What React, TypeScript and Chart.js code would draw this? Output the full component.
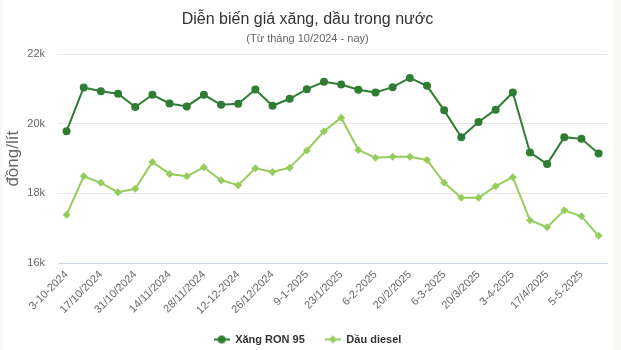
import React, { useEffect, useRef } from "react";
import { Chart, registerables } from "chart.js";

Chart.register(...registerables);

const categories: string[] = [
  "3-10-2024", "10/10/2024", "17/10/2024", "24/10/2024", "31/10/2024", "7/11/2024",
  "14/11/2024", "21/11/2024", "28/11/2024", "5/12/2024", "12-12-2024", "19/12/2024",
  "26/12/2024", "2/1/2025", "9-1-2025", "16/1/2025", "23/1/2025", "3/2/2025",
  "6-2-2025", "13/2/2025", "20/2/2025", "27/2/2025", "6-3-2025", "13/3/2025",
  "20/3/2025", "27/3/2025", "3-4-2025", "10/4/2025", "17/4/2025", "24/4/2025",
  "5-5-2025", "12/5/2025",
];

const ron95: number[] = [
  19790, 21048, 20943, 20867, 20486, 20838, 20590, 20505, 20838, 20552, 20581, 20990,
  20524, 20724, 21000, 21210, 21133, 20981, 20905, 21057, 21324, 21095, 20390, 19619,
  20057, 20410, 20905, 19181, 18848, 19619, 19571, 19152,
];

const diesel: number[] = [
  17390, 18495, 18305, 18038, 18133, 18905, 18562, 18495, 18752, 18381, 18238, 18724,
  18619, 18743, 19238, 19790, 20181, 19248, 19029, 19057, 19057, 18962, 18305, 17876,
  17876, 18210, 18467, 17229, 17029, 17514, 17343, 16781,
];

const seriesNames: string[] = ["Xăng RON 95", "Dầu diesel"];
const titleText = "Diễn biến giá xăng, dầu trong nước";
const subtitleText = "(Từ tháng 10/2024 - nay)";
const yAxisTitle = "đồng/lít";

const DARK = "#2e7d32";
const LIGHT = "#95cd5d";

function legendIcon(color: string, shape: "circle" | "diamond"): HTMLCanvasElement {
  const c = document.createElement("canvas");
  c.width = 16;
  c.height = 10;
  const ctx = c.getContext("2d")!;
  ctx.strokeStyle = color;
  ctx.fillStyle = color;
  ctx.lineWidth = 2;
  ctx.beginPath();
  ctx.moveTo(0, 5);
  ctx.lineTo(16, 5);
  ctx.stroke();
  ctx.beginPath();
  if (shape === "circle") {
    ctx.arc(8, 5, 4, 0, Math.PI * 2);
  } else {
    ctx.moveTo(8, 1);
    ctx.lineTo(12, 5);
    ctx.lineTo(8, 9);
    ctx.lineTo(4, 5);
    ctx.closePath();
  }
  ctx.fill();
  return c;
}

export default function App() {
  const ref = useRef<HTMLCanvasElement | null>(null);

  useEffect(() => {
    document.body.style.margin = "0";
    document.body.style.background = "#faf8f5";
    Chart.defaults.font.family = "'Liberation Sans', Arial, sans-serif";
    const icons = [legendIcon(DARK, "circle"), legendIcon(LIGHT, "diamond")];
    const chart = new Chart(ref.current!, {
      type: "line",
      data: {
        labels: categories,
        datasets: [
          {
            label: seriesNames[0],
            data: ron95,
            borderColor: DARK,
            backgroundColor: DARK,
            borderWidth: 2,
            pointStyle: "circle",
            pointRadius: 4,
            pointBorderWidth: 0,
            pointBackgroundColor: DARK,
            tension: 0,
          },
          {
            label: seriesNames[1],
            data: diesel,
            borderColor: LIGHT,
            backgroundColor: LIGHT,
            borderWidth: 2,
            pointStyle: "rectRot",
            pointRadius: 4,
            pointBorderWidth: 0,
            pointBackgroundColor: LIGHT,
            tension: 0,
          },
        ],
      },
      options: {
        animation: false,
        responsive: false,
        maintainAspectRatio: false,
        layout: { padding: { left: 0, right: 0, top: 0, bottom: -5 } },
        plugins: {
          title: {
            display: true,
            text: titleText,
            color: "#333333",
            font: { size: 16, weight: "normal" },
            padding: { top: 10, bottom: 0 },
          },
          subtitle: {
            display: true,
            text: subtitleText,
            color: "#666666",
            font: { size: 11, weight: "normal" },
            padding: { top: 3, bottom: 9 },
          },
          legend: {
            position: "bottom",
            labels: {
              usePointStyle: true,
              pointStyleWidth: 16,
              padding: 20,
              color: "#333333",
              font: { size: 11, weight: "bold" },
              generateLabels: (ch: any) => {
                const items = Chart.defaults.plugins.legend.labels.generateLabels(ch);
                items.forEach((it: any, i: number) => {
                  it.pointStyle = icons[i];
                });
                return items;
              },
            },
          },
          tooltip: { enabled: false },
        },
        scales: {
          x: {
            offset: true,
            grid: { display: false, drawTicks: false },
            border: { display: true, color: "#ccd6eb", width: 1 },
            ticks: {
              autoSkip: false,
              minRotation: 45,
              maxRotation: 45,
              padding: 5,
              color: "#666666",
              font: { size: 11 },
              callback: (_v: any, i: number) => (i % 2 === 0 ? categories[i] : ""),
            },
            afterFit: (s: any) => {
              s.height = 51;
            },
          },
          y: {
            min: 16000,
            max: 22000,
            ticks: {
              stepSize: 2000,
              padding: 13,
              color: "#666666",
              font: { size: 11 },
              callback: (v: any) => `${Number(v) / 1000}k`,
            },
            grid: { color: "#e6e6e6", drawTicks: false },
            border: { display: false },
            title: {
              display: true,
              text: yAxisTitle,
              color: "#666666",
              font: { size: 17 },
              padding: { top: 1, bottom: 0 },
            },
            afterFit: (s: any) => {
              s.width = 56;
            },
          },
        },
      },
    });
    return () => chart.destroy();
  }, []);

  return (
    <div style={{ marginLeft: 2, width: 611, height: 350, background: "#ffffff" }}>
      <canvas ref={ref} width={611} height={350} style={{ display: "block" }} />
    </div>
  );
}
